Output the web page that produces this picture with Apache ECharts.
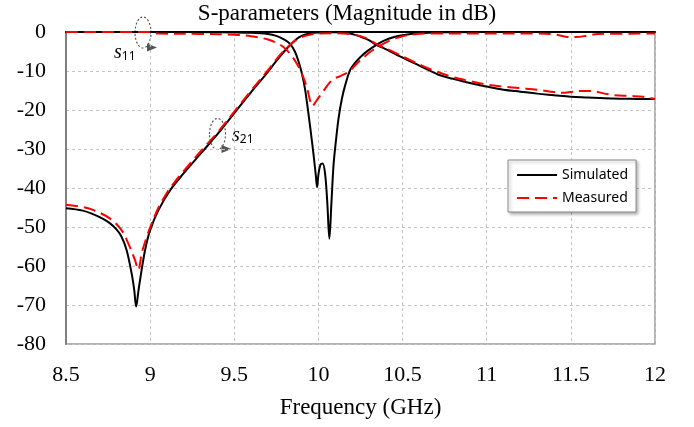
<!DOCTYPE html>
<html>
<head>
<meta charset="utf-8">
<script src="https://cdn.jsdelivr.net/npm/echarts@6/dist/echarts.min.js"></script>
<style>
  html, body { margin: 0; padding: 0; background: #fff; }
  #chart { width: 694px; height: 427px; }
</style>
</head>
<body>
<div id="chart"></div>
<script>
// axis ticks
const xMin = 8.5, xMax = 12, xStep = 0.5;
const yMin = -80, yMax = 0, yStep = 10;

// simulated S21 [GHz, dB]
const simS21 = [
  [8.5, -45.2], [8.6, -45.8], [8.66, -46.7], [8.72, -47.9], [8.76, -49], [8.8, -50.6],
  [8.83, -52.5], [8.86, -55.9], [8.89, -61.9], [8.905, -66], [8.917, -70.4], [8.93, -66.5],
  [8.94, -63.6], [8.97, -55.9], [9.0, -50.8], [9.05, -45.6], [9.12, -40.5], [9.2, -36.2],
  [9.3, -31.2], [9.4, -26.2], [9.5, -20.8], [9.6, -15.4], [9.7, -10.2], [9.75, -7.4],
  [9.8, -4.8], [9.84, -3], [9.87, -1.8], [9.9, -1], [9.95, -0.4], [10.0, -0.15],
  [10.1, -0.05], [10.15, -0.1], [10.2, -0.5], [10.25, -1.2], [10.3, -2.1], [10.345, -3.3],
  [10.4, -4.4], [10.45, -5.5], [10.53, -7.2], [10.6, -8.6], [10.71, -10.9], [10.8, -12],
  [10.9, -13.1], [11.0, -14], [11.1, -14.8], [11.2, -15.3], [11.3, -15.8], [11.4, -16.2],
  [11.5, -16.6], [11.6, -16.8], [11.7, -17], [11.8, -17.1], [11.9, -17.15], [12, -17.2]
];

// simulated S11
const simS11 = [
  [8.5, 0], [9.0, 0], [9.4, -0.05], [9.6, -0.2], [9.7, -0.5], [9.75, -1], [9.8, -2],
  [9.83, -3], [9.86, -5], [9.88, -7.3], [9.9, -10.3], [9.92, -14.5], [9.943, -21.7],
  [9.96, -27.5], [9.975, -33], [9.985, -37], [9.992, -39.8], [10.0, -36.5], [10.012, -34],
  [10.025, -33.7], [10.04, -36.5], [10.053, -44], [10.065, -53], [10.077, -44], [10.09, -34],
  [10.105, -27.5], [10.12, -22], [10.14, -17], [10.16, -13.5], [10.19, -9.6], [10.22, -7.8],
  [10.25, -6.4], [10.29, -4.9], [10.345, -3.3], [10.39, -2.2], [10.45, -1.3], [10.5, -0.85],
  [10.6, -0.35], [10.7, -0.1], [11, 0], [12, 0]
];

// measured S21
const measS21 = [
  [8.5, -44.3], [8.6, -44.9], [8.66, -45.6], [8.76, -47.8], [8.83, -50.8], [8.87, -54.2],
  [8.91, -58.5], [8.93, -61], [8.95, -56.7], [8.98, -52.5], [9.01, -49], [9.05, -45],
  [9.1, -41.2], [9.14, -38.8], [9.2, -35.6], [9.3, -30.6], [9.4, -25.8],
  [9.5, -20.4], [9.6, -15], [9.7, -9.8], [9.75, -7], [9.8, -4.6], [9.85, -2.6],
  [9.9, -1.3], [9.95, -0.7], [10.0, -0.4], [10.1, -0.3], [10.2, -0.6], [10.25, -1.1],
  [10.3, -1.9], [10.345, -3.1], [10.45, -5.2], [10.53, -6.9], [10.65, -9.3], [10.7, -10.1],
  [10.8, -11.6], [10.9, -12.6], [11.0, -13.5], [11.1, -14], [11.2, -14.4], [11.3, -14.8],
  [11.4, -15.4], [11.45, -15.6], [11.5, -15.4], [11.55, -15.1], [11.62, -15.1], [11.7, -15.8],
  [11.76, -16.2], [11.85, -16.4], [11.93, -16.6], [12, -17.2]
];

// measured S11
const measS11 = [
  [8.5, 0], [9.0, 0], [9.05, -0.4], [9.3, -0.5], [9.5, -0.7], [9.6, -1.1], [9.7, -1.9],
  [9.75, -2.8], [9.79, -3.8], [9.83, -5.5], [9.87, -8], [9.9, -10.5], [9.93, -14],
  [9.95, -17.5], [9.962, -19], [9.975, -18.5], [9.99, -17.5], [10.01, -16.3], [10.04, -14.5],
  [10.07, -12.8], [10.09, -12], [10.13, -11.3], [10.18, -10.2], [10.21, -8.9], [10.24, -7.6],
  [10.31, -5], [10.35, -3.9], [10.39, -2.9], [10.44, -1.9], [10.49, -1.2], [10.55, -0.7],
  [10.65, -0.4], [11.3, -0.4], [11.4, -0.6], [11.47, -1.2], [11.53, -1.3], [11.6, -0.9],
  [11.66, -0.5], [12, -0.4]
];

const serif = 'Liberation Serif';
const sans = 'Noto Sans';

const chart = echarts.init(document.getElementById('chart'));

const simLine = { color: '#000', width: 2 };
const measLine = { color: '#ff0000', width: 2, type: [12, 6] };

function lineSeries(name, data, style) {
  return {
    name: name,
    type: 'line',
    data: data,
    symbol: 'none',
    smooth: 0.35,
    lineStyle: style,
    itemStyle: { color: style.color },
    animation: false
  };
}

// dotted ellipse + arrow marking a pair of curves
function marker(cx, cy, sub, tx, ty) {
  return [
    {
      type: 'ellipse',
      shape: { cx: cx, cy: cy, rx: 8, ry: 15.5 },
      style: { fill: null, stroke: '#555', lineWidth: 1.2, lineDash: [2, 2] }
    },
    {
      type: 'polygon',
      shape: { points: [[cx + 4, cy + 11], [cx + 14, cy + 15], [cx + 4, cy + 19]] },
      style: { fill: '#555' }
    },
    {
      type: 'text',
      left: tx, top: ty,
      style: {
        text: '{s|s}{n|' + sub + '}',
        rich: {
          s: { fontFamily: serif, fontStyle: 'italic', fontSize: 20, fill: '#000' },
          n: { fontFamily: sans, fontSize: 12, fill: '#000', padding: [8, 0, 0, 0] }
        }
      }
    }
  ];
}

chart.setOption({
  backgroundColor: '#fff',
  animation: false,
  title: {
    text: 'S-parameters (Magnitude in dB)',
    left: 'center',
    top: -3,
    textStyle: { fontFamily: serif, fontSize: 23, fontWeight: 'normal', color: '#000' }
  },
  grid: {
    left: 66, right: 39, top: 32, bottom: 83,
    show: true, borderColor: '#999', borderWidth: 1.5, backgroundColor: 'transparent'
  },
  legend: {
    orient: 'vertical',
    left: 508, top: 160,
    padding: [8, 8, 7, 8],
    itemGap: 9,
    itemWidth: 40, itemHeight: 14,
    backgroundColor: '#fff',
    borderColor: '#888', borderWidth: 1,
    shadowColor: 'rgba(0,0,0,0.3)', shadowBlur: 3, shadowOffsetX: 2, shadowOffsetY: 2,
    itemStyle: { opacity: 0 },
    textStyle: { fontFamily: sans, fontSize: 14, color: '#000' },
    data: ['Simulated', 'Measured']
  },
  xAxis: {
    type: 'value',
    min: xMin, max: xMax, interval: xStep,
    name: 'Frequency (GHz)',
    nameLocation: 'middle',
    nameGap: 52,
    nameTextStyle: { fontFamily: serif, fontSize: 23, color: '#000' },
    axisLine: { lineStyle: { color: '#000', width: 2 } },
    axisTick: { show: false },
    axisLabel: { fontFamily: serif, fontSize: 22, color: '#000', margin: 20 },
    splitLine: { show: true, lineStyle: { color: '#c4c4c4', type: [3, 3], width: 1 } }
  },
  yAxis: {
    type: 'value',
    min: yMin, max: yMax, interval: yStep,
    axisLine: { show: true, lineStyle: { color: '#808080', width: 2 } },
    axisTick: { show: false },
    axisLabel: { fontFamily: serif, fontSize: 22, color: '#000', margin: 20 },
    splitLine: { show: true, lineStyle: { color: '#c4c4c4', type: [3, 3], width: 1 } }
  },
  graphic: [].concat(
    marker(143, 32.5, '11', 114, 43),
    marker(217.5, 134, '21', 232, 126)
  ),
  series: [
    lineSeries('Simulated', simS11, simLine),
    lineSeries('Simulated', simS21, simLine),
    lineSeries('Measured', measS11, measLine),
    lineSeries('Measured', measS21, measLine)
  ]
});
</script>
</body>
</html>
